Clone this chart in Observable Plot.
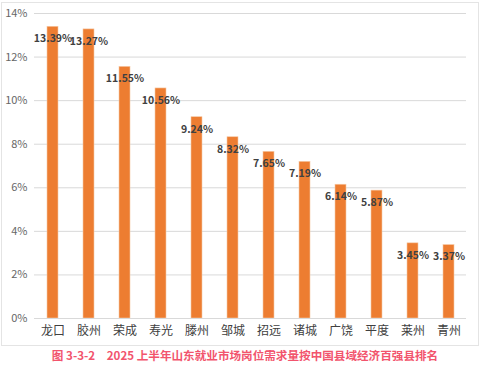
<!DOCTYPE html>
<html>
<head>
<meta charset="utf-8">
<script src="https://cdn.jsdelivr.net/npm/d3@7"></script>
<script src="https://cdn.jsdelivr.net/npm/@observablehq/plot@0.6"></script>
<style>
  body { margin: 0; background: #fff; font-family: "Noto Sans CJK SC", "Noto Sans", sans-serif; }
  #wrap { position: relative; width: 493px; height: 378px; }
  #frame { position: absolute; left: 1px; top: 2px; width: 476px; height: 342px; border: 1px solid #e4e4e4; }
  #chart { position: absolute; left: 0; top: 0; }
  #caption { position: absolute; left: 0; width: 490px; top: 347px; text-align: center; color: #f2546d; font-weight: bold; font-size: 11.6px; }
</style>
</head>
<body>
<div id="wrap">
  <div id="frame"></div>
  <div id="chart"></div>
  <div id="caption">图 3-3-2　2025 上半年山东就业市场岗位需求量按中国县域经济百强县排名</div>
</div>
<script>
const counties = ["龙口", "胶州", "荣成", "寿光", "滕州", "邹城", "招远", "诸城", "广饶", "平度", "莱州", "青州"];
const shares = [13.39, 13.27, 11.55, 10.56, 9.24, 8.32, 7.65, 7.19, 6.14, 5.87, 3.45, 3.37];
const yTicks = [0, 2, 4, 6, 8, 10, 12, 14];

const data = counties.map((c, i) => ({county: c, value: shares[i]}));

const chart = Plot.plot({
  width: 493,
  height: 346,
  marginLeft: 34,
  marginRight: 27,
  marginTop: 13,
  marginBottom: 28,
  style: {fontFamily: '"Noto Sans CJK SC", "Noto Sans", sans-serif', fontSize: "11px", color: "#595959", background: "transparent"},
  x: {domain: counties, paddingInner: 0.7, paddingOuter: 0.35, label: null},
  y: {domain: [0, 14], ticks: yTicks, label: null},
  marks: [
    Plot.gridY(yTicks, {stroke: "#d9d9d9", strokeOpacity: 1, strokeWidth: 1}),
    Plot.axisY(yTicks, {tickSize: 0, tickPadding: 7, tickFormat: d => d + "%", fill: "#666666", fontSize: 11}),
    Plot.axisX({tickSize: 0, tickPadding: 8, fill: "#404040", fontSize: 12}),
    Plot.barY(data, {x: "county", y: "value", fill: "#ED7D31", stroke: "#f6c9a6", strokeWidth: 0.6}),
    Plot.ruleY([0], {stroke: "#d9d9d9"}),
    Plot.text(data, {x: "county", y: "value", text: d => d.value.toFixed(2) + "%", dy: 12, fill: "#404040", fontWeight: "bold", fontSize: 10.5})
  ]
});
document.getElementById("chart").appendChild(chart);
</script>
</body>
</html>
